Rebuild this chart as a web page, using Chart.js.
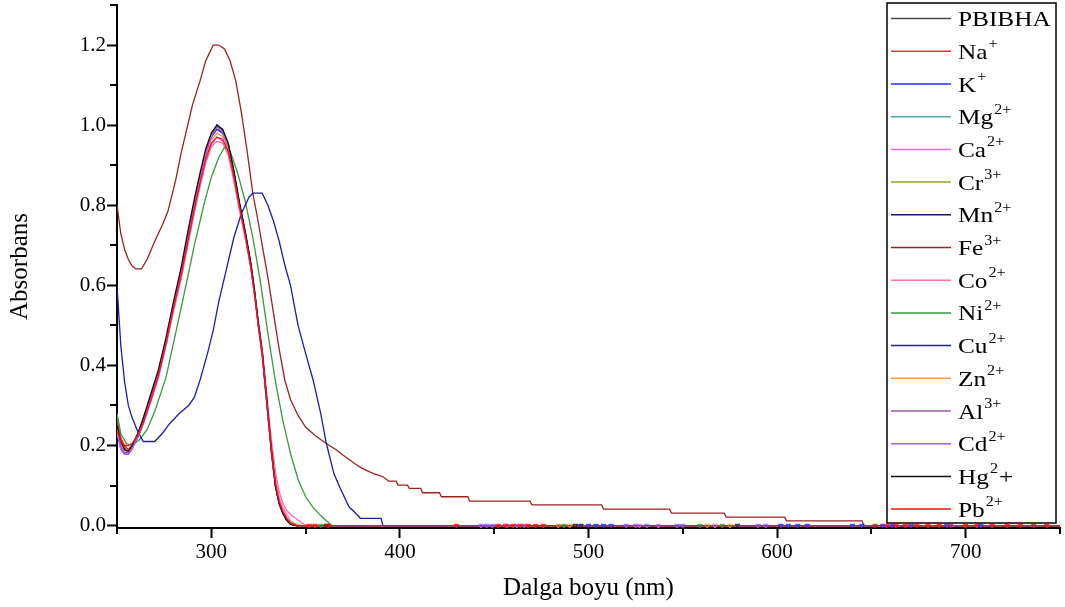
<!DOCTYPE html>
<html>
<head>
<meta charset="utf-8">
<script src="https://cdn.jsdelivr.net/npm/chart.js@4/dist/chart.umd.min.js"></script>
<style>
  html, body { margin: 0; padding: 0; background: #fff; }
  #wrap { width: 1065px; height: 607px; }
</style>
</head>
<body>
<div id="wrap"><canvas id="c" width="1065" height="607"></canvas></div>
<script>
// ---------- DATA ----------
// common wavelength grid for the curves that behave like the free ligand
const wlMain = [250,252,254,256,258,261,264,268,272,276,280,284,288,291,294,297,300,303,306,309,312,315,318,321,323,325,327,328,330,332,334,336,338,340,342,345,348,351,750];

const pbibha = [0.26,0.215,0.195,0.19,0.2,0.225,0.26,0.32,0.38,0.46,0.55,0.63,0.73,0.8,0.87,0.93,0.975,1.0,0.985,0.95,0.88,0.8,0.73,0.65,0.58,0.5,0.43,0.38,0.28,0.18,0.1,0.055,0.03,0.015,0.004,0,0,0,0];
const na = [0.27,0.22,0.2,0.19,0.2,0.225,0.26,0.315,0.375,0.455,0.545,0.625,0.725,0.795,0.865,0.925,0.97,0.99,0.98,0.945,0.875,0.795,0.725,0.645,0.575,0.495,0.425,0.375,0.275,0.175,0.1,0.055,0.03,0.015,0.004,0,0,0,0];
const k = [0.24,0.2,0.185,0.18,0.195,0.22,0.255,0.315,0.375,0.455,0.545,0.625,0.725,0.795,0.865,0.925,0.97,0.99,0.98,0.945,0.875,0.795,0.725,0.645,0.575,0.5,0.43,0.38,0.28,0.18,0.1,0.055,0.03,0.015,0.004,0,0,0,0];
const mg = [0.25,0.205,0.19,0.185,0.197,0.224,0.26,0.32,0.38,0.46,0.55,0.63,0.73,0.8,0.87,0.93,0.975,1.0,0.985,0.95,0.88,0.8,0.73,0.65,0.58,0.5,0.43,0.38,0.28,0.18,0.1,0.058,0.032,0.016,0.005,0,0,0,0];
const ca = [0.23,0.195,0.18,0.18,0.195,0.22,0.255,0.31,0.37,0.45,0.54,0.62,0.715,0.785,0.85,0.91,0.95,0.97,0.96,0.93,0.865,0.79,0.72,0.64,0.575,0.5,0.43,0.385,0.29,0.195,0.12,0.07,0.045,0.028,0.012,0.003,0,0,0];
const cr = [0.25,0.21,0.19,0.185,0.197,0.224,0.26,0.32,0.38,0.46,0.55,0.63,0.73,0.8,0.87,0.93,0.972,0.995,0.982,0.948,0.878,0.798,0.728,0.648,0.578,0.5,0.43,0.38,0.28,0.18,0.1,0.057,0.032,0.016,0.005,0,0,0,0];
const mn = [0.25,0.21,0.19,0.185,0.198,0.225,0.262,0.322,0.382,0.462,0.552,0.632,0.732,0.802,0.872,0.932,0.977,1.0,0.987,0.952,0.882,0.802,0.732,0.652,0.582,0.502,0.432,0.382,0.282,0.182,0.1,0.055,0.03,0.014,0.004,0,0,0,0];
const co = [0.24,0.2,0.185,0.185,0.198,0.222,0.256,0.312,0.37,0.45,0.535,0.615,0.71,0.78,0.845,0.905,0.945,0.96,0.955,0.925,0.86,0.785,0.72,0.645,0.58,0.505,0.44,0.395,0.3,0.21,0.135,0.085,0.055,0.038,0.028,0.018,0.006,0,0];
const zn = [0.25,0.21,0.19,0.185,0.197,0.223,0.258,0.318,0.378,0.458,0.548,0.628,0.726,0.796,0.864,0.922,0.962,0.98,0.972,0.94,0.872,0.795,0.727,0.648,0.58,0.502,0.433,0.384,0.285,0.186,0.108,0.062,0.036,0.02,0.01,0.004,0,0,0];
const al = [0.24,0.195,0.18,0.178,0.193,0.222,0.26,0.32,0.38,0.46,0.55,0.63,0.73,0.8,0.87,0.93,0.975,1.0,0.985,0.95,0.88,0.8,0.73,0.65,0.58,0.5,0.43,0.38,0.28,0.18,0.1,0.055,0.03,0.015,0.004,0,0,0,0];
const cd = [0.23,0.19,0.178,0.178,0.19,0.22,0.258,0.318,0.378,0.458,0.548,0.628,0.728,0.798,0.868,0.928,0.973,0.998,0.983,0.948,0.878,0.798,0.728,0.648,0.578,0.498,0.428,0.378,0.278,0.178,0.1,0.055,0.03,0.015,0.004,0,0,0,0];
const hg = [0.25,0.21,0.19,0.185,0.2,0.23,0.27,0.33,0.39,0.47,0.56,0.645,0.745,0.815,0.88,0.94,0.98,1.0,0.99,0.955,0.885,0.805,0.735,0.655,0.585,0.505,0.435,0.385,0.285,0.185,0.1,0.055,0.03,0.013,0.003,0,0,0,0];
const pb = [0.24,0.21,0.2,0.2,0.205,0.225,0.258,0.315,0.375,0.455,0.545,0.625,0.72,0.79,0.855,0.915,0.955,0.97,0.965,0.935,0.87,0.795,0.725,0.645,0.578,0.5,0.432,0.385,0.285,0.185,0.105,0.06,0.035,0.018,0.006,0,0,0,0];

const wlNi = [250,252,255,258,262,266,270,276,282,287,291,296,300,304,307,310,314,318,322,326,330,334,338,342,346,350,354,358,361,364,750];
const ni = [0.28,0.23,0.205,0.2,0.215,0.24,0.285,0.37,0.5,0.61,0.7,0.8,0.87,0.92,0.945,0.935,0.88,0.81,0.72,0.61,0.48,0.36,0.26,0.18,0.115,0.072,0.045,0.025,0.012,0,0];

const wlCu = [250,252,254,256,258,261,264,270,274,278,283,288,291,294,298,301,304,308,312,316,320,322,327,330,333,336,339,342,346,350,354,358,361,365,368,373,378,379,390,391,750];
const cu = [0.6,0.45,0.36,0.3,0.27,0.235,0.21,0.21,0.23,0.255,0.28,0.3,0.32,0.363,0.43,0.487,0.56,0.64,0.72,0.78,0.82,0.83,0.83,0.8,0.76,0.71,0.65,0.6,0.5,0.43,0.363,0.28,0.205,0.13,0.097,0.047,0.024,0.018,0.018,0,0];

const wlFe = [250,252,254,256,258,260,263,266,270,274,277,281,284,287,290,294,297,299,301,304,307,310,313,316,319,322,325,327,330,333,336,339,342,346,350,355,361,366,371,376,380,386,391,393,394,398,399,404,405,411,412,421,422,436,437,469,470,507,508,543,544,572,573,604,605,645,646,750];
const fe = [0.8,0.73,0.69,0.665,0.648,0.641,0.641,0.665,0.71,0.75,0.785,0.86,0.93,0.99,1.05,1.11,1.16,1.18,1.2,1.2,1.19,1.16,1.11,1.03,0.935,0.83,0.755,0.7,0.62,0.53,0.44,0.363,0.315,0.275,0.246,0.225,0.205,0.19,0.172,0.155,0.143,0.13,0.122,0.115,0.111,0.111,0.101,0.101,0.093,0.093,0.082,0.082,0.072,0.072,0.061,0.061,0.0515,0.0515,0.041,0.041,0.031,0.031,0.021,0.021,0.012,0.012,0,0];

// baseline symbols visible along A = 0
const markRedX = [352,355,362,430,452,456,460,464,468,472,476,652,658,663,668,674,680,686,692,700,706,714,722,729,736,743];
const markBlueX = [500,504,508,512,602,606,611,616,640,645,656,661,671,690,708];
const markPurpleX = [443,446,449,457,462,466,520,525,531,547,550,590,594];
const markGreenX = [358,487,559,571];
const markOrangeX = [484,490,563,575];
const markBlackX = [361,493,496,579];
const markPinkX = [527,537,567];

// tick labels / positions
const xTicks = [250,300,350,400,450,500,550,600,650,700,750];
const xMajor = [300,400,500,600,700];
const yTicks = [0,0.1,0.2,0.3,0.4,0.5,0.6,0.7,0.8,0.9,1.0,1.1,1.2,1.3];
const yMajor = [0,0.2,0.4,0.6,0.8,1.0,1.2];

// legend labels: [base, superscript, trailing]
const labels = [
  ['PBIBHA','',''], ['Na','+',''], ['K','+',''], ['Mg','2+',''], ['Ca','2+',''],
  ['Cr','3+',''], ['Mn','2+',''], ['Fe','3+',''], ['Co','2+',''], ['Ni','2+',''],
  ['Cu','2+',''], ['Zn','2+',''], ['Al','3+',''], ['Cd','2+',''], ['Hg','2','+'], ['Pb','2+','']
];
const colors = ['#4a4a4a','#e03a3a','#2a2aff','#4fa3a3','#ff66e8','#9c9c28','#16166e','#992222',
                '#ff6fa8','#3a9a3a','#1c1cb0','#ff9a3c','#a855a8','#a65cff','#111111','#ff1010'];

// ---------- BUILD ----------
const pts = (xs, ys) => xs.map((x, i) => ({x: x, y: ys[i]}));
const seriesData = [
  pts(wlMain, pbibha), pts(wlMain, na), pts(wlMain, k), pts(wlMain, mg), pts(wlMain, ca),
  pts(wlMain, cr), pts(wlMain, mn), pts(wlFe, fe), pts(wlMain, co), pts(wlNi, ni),
  pts(wlCu, cu), pts(wlMain, zn), pts(wlMain, al), pts(wlMain, cd), pts(wlMain, hg), pts(wlMain, pb)
];
const datasets = seriesData.map((d, i) => ({
  label: labels[i].join(''),
  data: d,
  borderColor: colors[i],
  backgroundColor: colors[i],
  borderWidth: 1.3,
  pointRadius: 0,
  tension: 0,
  fill: false,
  order: 100 - i
}));
const markerSets = [
  [markRedX, '#ff1010'], [markBlueX, '#2a2aff'], [markPurpleX, '#a65cff'],
  [markGreenX, '#3a9a3a'], [markOrangeX, '#ff9a3c'], [markBlackX, '#111111'], [markPinkX, '#ff66e8']
];
markerSets.forEach(([xs, c]) => {
  datasets.push({
    label: '_m',
    data: xs.map(x => ({x: x, y: 0})),
    showLine: false,
    pointStyle: 'triangle',
    rotation: 180,
    pointRadius: 2.6,
    pointBorderWidth: 1,
    pointBorderColor: c,
    pointBackgroundColor: 'rgba(0,0,0,0)',
    borderColor: c,
    order: 0
  });
});

const isMajor = (arr, v) => arr.some(m => Math.abs(m - v) < 1e-6);

const bgPlugin = {
  id: 'bg',
  beforeDraw(chart) {
    const ctx = chart.ctx;
    ctx.save();
    ctx.fillStyle = '#ffffff';
    ctx.fillRect(0, 0, chart.width, chart.height);
    ctx.restore();
  }
};

const minorTicksPlugin = {
  id: 'minorTicks',
  afterDraw(chart) {
    const {ctx, chartArea, scales} = chart;
    ctx.save();
    ctx.strokeStyle = '#000';
    ctx.lineWidth = 2;
    xTicks.filter(v => !isMajor(xMajor, v)).forEach(v => {
      const px = Math.round(scales.x.getPixelForValue(v));
      ctx.beginPath(); ctx.moveTo(px, chartArea.bottom); ctx.lineTo(px, chartArea.bottom + 6); ctx.stroke();
    });
    yTicks.filter(v => !isMajor(yMajor, v)).forEach(v => {
      const py = Math.round(scales.y.getPixelForValue(v));
      ctx.beginPath(); ctx.moveTo(chartArea.left - 7, py); ctx.lineTo(chartArea.left, py); ctx.stroke();
    });
    ctx.restore();
  }
};

const legendPlugin = {
  id: 'boxLegend',
  afterDraw(chart) {
    const ctx = chart.ctx;
    ctx.save();
    const bx = 887, by = 3, bw = 169, bh = 520;
    ctx.fillStyle = '#fff';
    ctx.fillRect(bx, by, bw, bh);
    ctx.strokeStyle = '#000';
    ctx.lineWidth = 1.5;
    ctx.strokeRect(bx, by, bw, bh);
    const sx = 1.15;
    labels.forEach((lab, i) => {
      const y = 18.6 + i * 32.7;
      ctx.strokeStyle = colors[i];
      ctx.lineWidth = 1.5;
      ctx.beginPath(); ctx.moveTo(891, y); ctx.lineTo(951, y); ctx.stroke();
      ctx.fillStyle = '#000';
      ctx.textBaseline = 'alphabetic';
      ctx.textAlign = 'left';
      let x = 958;
      const base = y + 7.5;
      const drawPart = (t, font, dy) => {
        if (!t) return;
        ctx.font = font;
        ctx.save();
        ctx.translate(x, base + dy);
        ctx.scale(sx, 1);
        ctx.fillText(t, 0, 0);
        ctx.restore();
        x += ctx.measureText(t).width * sx;
      };
      drawPart(lab[0], '22px "Liberation Serif"', 0);
      if (lab[1]) { x += 1; drawPart(lab[1], '14px "Liberation Serif"', -10.5); }
      if (lab[2]) { x += 1; drawPart(lab[2], '22px "Liberation Serif"', 0); }
    });
    ctx.restore();
  }
};

new Chart(document.getElementById('c'), {
  type: 'line',
  data: { datasets: datasets },
  plugins: [bgPlugin, minorTicksPlugin, legendPlugin],
  options: {
    responsive: false,
    animation: false,
    devicePixelRatio: 1,
    layout: { padding: { top: 4, right: 3, left: 0, bottom: 0 } },
    plugins: { legend: { display: false }, tooltip: { enabled: false } },
    scales: {
      x: {
        type: 'linear',
        min: 250, max: 750,
        afterBuildTicks: s => { s.ticks = xTicks.map(v => ({value: v})); },
        afterFit: s => { s.height = 79; s.paddingLeft = 0; s.paddingRight = 0; },
        grid: {
          drawOnChartArea: false,
          tickLength: 10,
          tickWidth: 2,
          tickColor: c => (c.tick && isMajor(xMajor, c.tick.value)) ? '#000' : 'rgba(0,0,0,0)'
        },
        border: { display: true, color: '#000', width: 2 },
        ticks: {
          autoSkip: false,
          maxRotation: 0,
          padding: 2,
          color: '#000',
          font: { family: '"Liberation Serif"', size: 21 },
          callback: v => isMajor(xMajor, v) ? String(v) : ''
        },
        title: {
          display: true,
          text: 'Dalga boyu (nm)',
          color: '#000',
          font: { family: '"Liberation Serif"', size: 25 },
          padding: { top: 0, bottom: 4 }
        }
      },
      y: {
        type: 'linear',
        min: -0.006, max: 1.3,
        afterBuildTicks: s => { s.ticks = yTicks.map(v => ({value: v})); },
        afterFit: s => { s.width = 117; s.paddingTop = 0; s.paddingBottom = 0; },
        grid: {
          drawOnChartArea: false,
          tickLength: 10,
          tickWidth: 2,
          tickColor: c => (c.tick && isMajor(yMajor, c.tick.value)) ? '#000' : 'rgba(0,0,0,0)'
        },
        border: { display: true, color: '#000', width: 2 },
        ticks: {
          autoSkip: false,
          padding: 1,
          color: '#000',
          font: { family: '"Liberation Serif"', size: 21 },
          callback: v => isMajor(yMajor, v) ? v.toFixed(1) : ''
        },
        title: {
          display: true,
          text: 'Absorbans',
          color: '#000',
          font: { family: '"Liberation Serif"', size: 25 },
          padding: { top: 5, bottom: 0 }
        }
      }
    }
  }
});
</script>
</body>
</html>
